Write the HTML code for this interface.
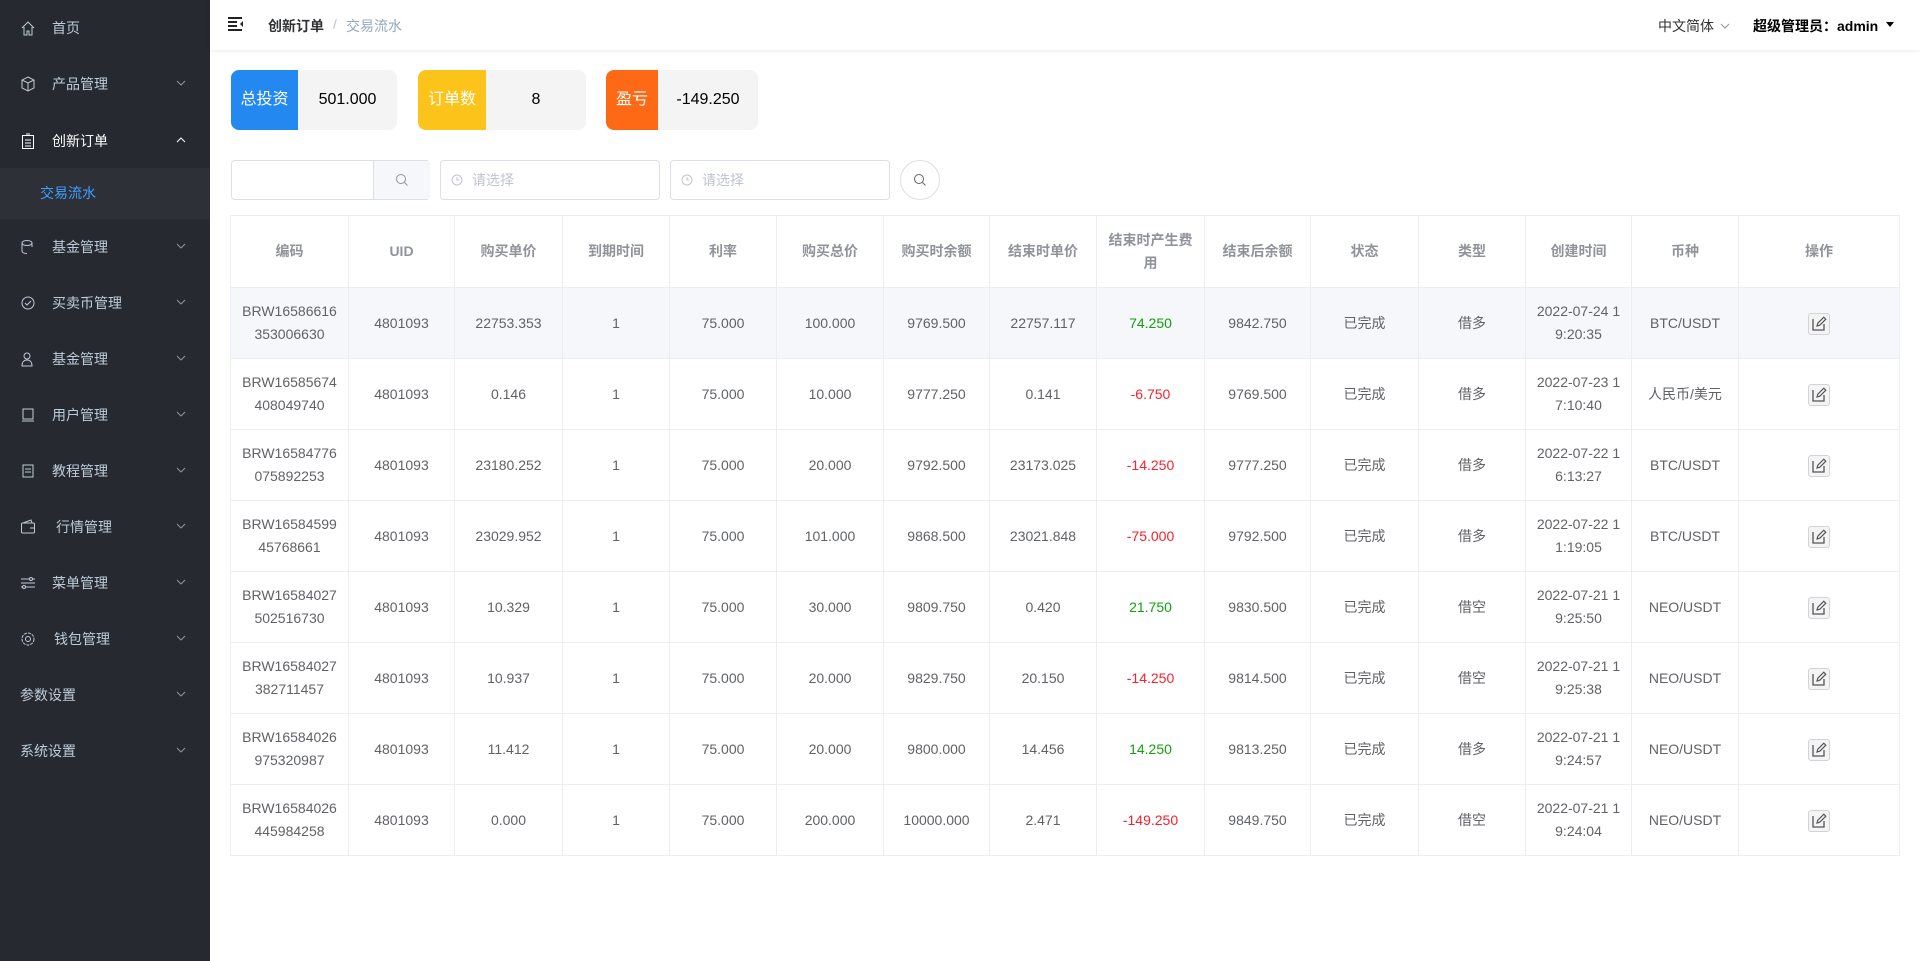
<!DOCTYPE html>
<html><head><meta charset="utf-8"><style>
*{margin:0;padding:0;box-sizing:border-box}
body{width:1920px;height:961px;overflow:hidden;background:#fff;font-family:"Liberation Sans","Noto Sans CJK SC",sans-serif;font-size:14px;color:#606266;position:relative}
.side{position:absolute;left:0;top:0;width:210px;height:961px;background:#262930}
.mi{position:absolute;left:0;width:210px;height:56px;line-height:56px;color:#bfcbd9;font-size:14px}
.mi .ic{position:absolute;left:20px;top:20px;width:16px;height:16px}
.mi .t{position:absolute;left:52px}
.mi .ar{position:absolute;left:176px;top:22px;width:10px;height:10px}
.sub{position:absolute;left:0;top:168px;width:210px;height:51px;background:#2d3037;color:#409eff;line-height:51px}
.hdr{position:absolute;left:210px;top:0;right:0;height:50px;box-shadow:0 1px 4px rgba(0,21,41,.08);white-space:nowrap}
.card{position:absolute;top:70px;height:60px;border-radius:8px;background:#f4f4f5;overflow:hidden;font-size:16px;color:#000}
.card .l{position:absolute;left:0;top:0;height:60px;line-height:60px;color:#fff;text-align:center}
.card .v{position:absolute;top:0;height:60px;line-height:60px;text-align:center}
.inp{position:absolute;top:160px;height:40px;border:1px solid #dcdfe6;border-radius:4px;color:#c0c4cc;line-height:38px}
table{position:absolute;left:230px;top:215px;border-collapse:collapse;table-layout:fixed;width:1669px}
td,th{border:1px solid #ebeef5;text-align:center;padding:0 10px;word-break:break-all;line-height:23px;font-size:14px}
th{height:72px;color:#909399;font-weight:bold}
td{height:71px;color:#606266}
tr.h td{background:#f5f7fa}
.g{color:#13a10e}.r{color:#f5222d}
.ed{display:inline-block;width:22px;height:22px;border:1px solid #d0d3d9;border-radius:3px;background:#f4f4f5;vertical-align:middle}
.ed svg{display:block;margin:1px}
</style></head><body>
<svg width="0" height="0" style="position:absolute"><defs><symbol id="chev" viewBox="0 0 10 10"><path d="M1 3l4 4 4-4" fill="none" stroke="#909399"/></symbol><symbol id="pen" viewBox="0 0 18 18"><path d="M3 4v11h11V9" fill="none" stroke="#555" stroke-width="1.3"/><path d="M7 11l.8-2.8 6-6 2 2-6 6z" fill="none" stroke="#555" stroke-width="1.2"/></symbol></defs></svg>
<div class="side">
<div class="mi" style="top:0"><svg class="ic" viewBox="0 0 16 16"><path d="M2 8L8 2l6 6M4 7v8h3v-4h2v4h3V7" fill="none" stroke="#bfcbd9"/></svg><span class="t">首页</span></div>
<div class="mi" style="top:56px"><svg class="ic" viewBox="0 0 16 16"><path d="M8 1l6 3v8l-6 3-6-3V4zM2 4l6 3 6-3M8 7v8" fill="none" stroke="#bfcbd9"/></svg><span class="t">产品管理</span><svg class="ar"><use href="#chev"/></svg></div>
<div class="mi" style="top:113px;color:#fff"><svg class="ic" viewBox="0 0 16 16"><rect x="2.5" y="2.5" width="11" height="13" fill="none" stroke="#fff"/><path d="M5 7h6M5 10h6M5 13h6M6 1h4" stroke="#fff"/></svg><span class="t">创新订单</span><svg class="ar" viewBox="0 0 10 10"><path d="M1 7l4-4 4 4" fill="none" stroke="#fff"/></svg></div>
<div class="sub"><span style="position:absolute;left:40px">交易流水</span></div>
<div class="mi" style="top:219px"><svg class="ic" viewBox="0 0 16 16"><ellipse cx="7" cy="4" rx="5" ry="2.5" fill="none" stroke="#bfcbd9"/><path d="M2 4v8c0 1.5 2 2.5 5 2.5M12 4v4" fill="none" stroke="#bfcbd9"/></svg><span class="t">基金管理</span><svg class="ar"><use href="#chev"/></svg></div>
<div class="mi" style="top:275px"><svg class="ic" viewBox="0 0 16 16"><circle cx="8" cy="8" r="6" fill="none" stroke="#bfcbd9"/><path d="M5 8l2 2 4-4" fill="none" stroke="#bfcbd9"/></svg><span class="t">买卖币管理</span><svg class="ar"><use href="#chev"/></svg></div>
<div class="mi" style="top:331px"><svg class="ic" viewBox="0 0 16 16"><circle cx="7" cy="5" r="3" fill="none" stroke="#bfcbd9"/><path d="M2 15c0-4 2-6 5-6s5 2 5 6z" fill="none" stroke="#bfcbd9"/></svg><span class="t">基金管理</span><svg class="ar"><use href="#chev"/></svg></div>
<div class="mi" style="top:387px"><svg class="ic" viewBox="0 0 16 16"><rect x="3" y="2" width="10" height="10" fill="none" stroke="#bfcbd9"/><path d="M2 14h12" stroke="#bfcbd9"/></svg><span class="t">用户管理</span><svg class="ar"><use href="#chev"/></svg></div>
<div class="mi" style="top:443px"><svg class="ic" viewBox="0 0 16 16"><rect x="3" y="2" width="10" height="12" fill="none" stroke="#bfcbd9"/><path d="M5 6h6M5 9h6" stroke="#bfcbd9"/></svg><span class="t">教程管理</span><svg class="ar"><use href="#chev"/></svg></div>
<div class="mi" style="top:499px"><svg class="ic" viewBox="0 0 16 16"><rect x="1.5" y="4" width="13" height="10" rx="1" fill="none" stroke="#bfcbd9"/><path d="M3 4l8-3 1 3M10 9h4" fill="none" stroke="#bfcbd9"/></svg><span class="t" style="left:56px">行情管理</span><svg class="ar"><use href="#chev"/></svg></div>
<div class="mi" style="top:555px"><svg class="ic" viewBox="0 0 16 16"><path d="M1 4h14M1 8h14M1 12h14" stroke="#bfcbd9"/><circle cx="11" cy="4" r="1.5" fill="#262930" stroke="#bfcbd9"/><circle cx="4" cy="12" r="1.5" fill="#262930" stroke="#bfcbd9"/></svg><span class="t">菜单管理</span><svg class="ar"><use href="#chev"/></svg></div>
<div class="mi" style="top:611px"><svg class="ic" viewBox="0 0 16 16"><circle cx="8" cy="8" r="6" fill="none" stroke="#bfcbd9" stroke-dasharray="3 1"/><circle cx="8" cy="8" r="2.5" fill="none" stroke="#bfcbd9"/></svg><span class="t" style="left:54px">钱包管理</span><svg class="ar"><use href="#chev"/></svg></div>
<div class="mi" style="top:667px"><span class="t" style="left:20px">参数设置</span><svg class="ar"><use href="#chev"/></svg></div>
<div class="mi" style="top:723px"><span class="t" style="left:20px">系统设置</span><svg class="ar"><use href="#chev"/></svg></div>
</div>
<div class="hdr">
<svg style="position:absolute;left:18px;top:17px" width="16" height="14" viewBox="0 0 16 14"><path d="M0 1h14M0 5h9M0 9h9M0 13h14" stroke="#222" stroke-width="2"/><path d="M15 4l-3 3 3 3z" fill="#222"/></svg>
<span style="position:absolute;left:58px;top:16px;font-weight:bold;color:#303133">创新订单</span>
<span style="position:absolute;left:123px;top:16px;color:#c0c4cc">/</span>
<span style="position:absolute;left:136px;top:16px;color:#97a8be">交易流水</span>
<span style="position:absolute;left:1448px;top:16px;color:#303133">中文简体</span>
<svg style="position:absolute;left:1510px;top:21px" width="10" height="10"><use href="#chev"/></svg>
<span style="position:absolute;left:1543px;top:16px;font-weight:bold;color:#000">超级管理员：admin</span>
<svg style="position:absolute;left:1676px;top:22px" width="8" height="6" viewBox="0 0 8 6"><path d="M0 0h8L4 5z" fill="#000"/></svg>
</div>
<div class="card" style="left:231px;width:166px"><div class="l" style="width:67px;background:#2388f0">总投资</div><div class="v" style="left:67px;width:99px">501.000</div></div>
<div class="card" style="left:418px;width:168px"><div class="l" style="width:68px;background:#fcc41b">订单数</div><div class="v" style="left:68px;width:100px">8</div></div>
<div class="card" style="left:606px;width:152px"><div class="l" style="width:52px;background:#fd6914">盈亏</div><div class="v" style="left:52px;width:100px">-149.250</div></div>
<div class="inp" style="left:231px;width:199px"><div style="position:absolute;left:141px;top:0;width:57px;height:38px;background:#f5f7fa;border-left:1px solid #dcdfe6;text-align:center"><svg width="14" height="14" style="margin-top:12px" viewBox="0 0 14 14"><circle cx="6" cy="6" r="4.5" fill="none" stroke="#909399"/><path d="M9.5 9.5l3 3" stroke="#909399"/></svg></div></div>
<div class="inp" style="left:440px;width:220px"><svg style="position:absolute;left:10px;top:13px" width="12" height="12" viewBox="0 0 12 12"><circle cx="6" cy="6" r="5" fill="none" stroke="#c0c4cc"/><path d="M6 3v3h2" fill="none" stroke="#c0c4cc"/></svg><span style="position:absolute;left:31px">请选择</span></div>
<div class="inp" style="left:670px;width:220px"><svg style="position:absolute;left:10px;top:13px" width="12" height="12" viewBox="0 0 12 12"><circle cx="6" cy="6" r="5" fill="none" stroke="#c0c4cc"/><path d="M6 3v3h2" fill="none" stroke="#c0c4cc"/></svg><span style="position:absolute;left:31px">请选择</span></div>
<div style="position:absolute;left:900px;top:160px;width:40px;height:40px;border:1px solid #dcdfe6;border-radius:50%;text-align:center"><svg width="14" height="14" style="margin-top:12px" viewBox="0 0 14 14"><circle cx="6" cy="6" r="4.5" fill="none" stroke="#606266"/><path d="M9.5 9.5l3 3" stroke="#606266"/></svg></div>
<table>
<colgroup><col style="width:118px"><col style="width:106px"><col style="width:108px"><col style="width:107px"><col style="width:107px"><col style="width:107px"><col style="width:106px"><col style="width:107px"><col style="width:108px"><col style="width:106px"><col style="width:108px"><col style="width:107px"><col style="width:106px"><col style="width:107px"><col style="width:161px"></colgroup>
<tr><th>编码</th><th>UID</th><th>购买单价</th><th>到期时间</th><th>利率</th><th>购买总价</th><th>购买时余额</th><th>结束时单价</th><th>结束时产生费用</th><th>结束后余额</th><th>状态</th><th>类型</th><th>创建时间</th><th>币种</th><th>操作</th></tr>
<tr class="h"><td>BRW16586616353006630</td><td>4801093</td><td>22753.353</td><td>1</td><td>75.000</td><td>100.000</td><td>9769.500</td><td>22757.117</td><td class="g">74.250</td><td>9842.750</td><td>已完成</td><td>借多</td><td>2022-07-24 19:20:35</td><td>BTC/USDT</td><td><span class="ed"><svg width="18" height="18"><use href="#pen"/></svg></span></td></tr>
<tr><td>BRW16585674408049740</td><td>4801093</td><td>0.146</td><td>1</td><td>75.000</td><td>10.000</td><td>9777.250</td><td>0.141</td><td class="r">-6.750</td><td>9769.500</td><td>已完成</td><td>借多</td><td>2022-07-23 17:10:40</td><td>人民币/美元</td><td><span class="ed"><svg width="18" height="18"><use href="#pen"/></svg></span></td></tr>
<tr><td>BRW16584776075892253</td><td>4801093</td><td>23180.252</td><td>1</td><td>75.000</td><td>20.000</td><td>9792.500</td><td>23173.025</td><td class="r">-14.250</td><td>9777.250</td><td>已完成</td><td>借多</td><td>2022-07-22 16:13:27</td><td>BTC/USDT</td><td><span class="ed"><svg width="18" height="18"><use href="#pen"/></svg></span></td></tr>
<tr><td>BRW1658459945768661</td><td>4801093</td><td>23029.952</td><td>1</td><td>75.000</td><td>101.000</td><td>9868.500</td><td>23021.848</td><td class="r">-75.000</td><td>9792.500</td><td>已完成</td><td>借多</td><td>2022-07-22 11:19:05</td><td>BTC/USDT</td><td><span class="ed"><svg width="18" height="18"><use href="#pen"/></svg></span></td></tr>
<tr><td>BRW16584027502516730</td><td>4801093</td><td>10.329</td><td>1</td><td>75.000</td><td>30.000</td><td>9809.750</td><td>0.420</td><td class="g">21.750</td><td>9830.500</td><td>已完成</td><td>借空</td><td>2022-07-21 19:25:50</td><td>NEO/USDT</td><td><span class="ed"><svg width="18" height="18"><use href="#pen"/></svg></span></td></tr>
<tr><td>BRW16584027382711457</td><td>4801093</td><td>10.937</td><td>1</td><td>75.000</td><td>20.000</td><td>9829.750</td><td>20.150</td><td class="r">-14.250</td><td>9814.500</td><td>已完成</td><td>借空</td><td>2022-07-21 19:25:38</td><td>NEO/USDT</td><td><span class="ed"><svg width="18" height="18"><use href="#pen"/></svg></span></td></tr>
<tr><td>BRW16584026975320987</td><td>4801093</td><td>11.412</td><td>1</td><td>75.000</td><td>20.000</td><td>9800.000</td><td>14.456</td><td class="g">14.250</td><td>9813.250</td><td>已完成</td><td>借多</td><td>2022-07-21 19:24:57</td><td>NEO/USDT</td><td><span class="ed"><svg width="18" height="18"><use href="#pen"/></svg></span></td></tr>
<tr><td>BRW16584026445984258</td><td>4801093</td><td>0.000</td><td>1</td><td>75.000</td><td>200.000</td><td>10000.000</td><td>2.471</td><td class="r">-149.250</td><td>9849.750</td><td>已完成</td><td>借空</td><td>2022-07-21 19:24:04</td><td>NEO/USDT</td><td><span class="ed"><svg width="18" height="18"><use href="#pen"/></svg></span></td></tr>
</table>
</body></html>
